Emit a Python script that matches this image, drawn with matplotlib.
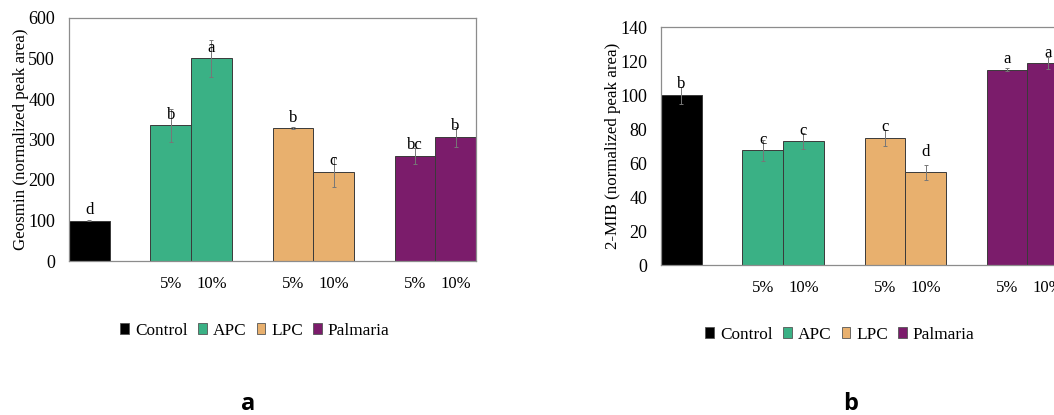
import matplotlib
matplotlib.use("Agg")
import matplotlib.pyplot as plt
import matplotlib.patches as mpatches

plt.rcParams["font.family"] = ["Liberation Serif", "DejaVu Serif"]

groups = ["Control", "APC", "LPC", "Palmaria"]
colors = ["#000000", "#3ab185", "#e8b06e", "#7b1c6b"]
doses = ["5%", "10%", "5%", "10%", "5%", "10%"]

# bar order: Control, APC 5/10, LPC 5/10, Palmaria 5/10
bar_group = [0, 1, 1, 2, 2, 3, 3]
bar_slot = [0, 2, 3, 5, 6, 8, 9]
dose_slot = [2, 3, 5, 6, 8, 9]

geosmin = [100, 335, 500, 328, 220, 260, 307]
geosmin_err = [2, 40, 46, 2, 38, 20, 25]
geosmin_letters = ["d", "b", "a", "b", "c", "bc", "b"]

mib = [100, 67.5, 73, 75, 54.5, 115, 119]
mib_err = [5, 6, 4.5, 4.7, 4.5, 0.8, 3.5]
mib_letters = ["b", "c", "c", "c", "d", "a", "a"]


def draw_panel(axis, values, errors, letters, ylabel, ymax, ystep, letter_pads):
	axis.bar(bar_slot, values, width=1.0, color=[colors[g] for g in bar_group],
		edgecolor="#3a3a3a", linewidth=0.7, zorder=2)
	axis.errorbar(bar_slot, values, yerr=errors, fmt="none", ecolor="#777777",
		elinewidth=0.7, capsize=1.5, capthick=0.7, zorder=3)
	for x, v, letter, pad in zip(bar_slot, values, letters, letter_pads):
		axis.annotate(letter, (x, v), xytext=(0, pad), textcoords="offset points",
			ha="center", va="center", fontsize=12, zorder=4)
	axis.set_xlim(-0.5, 9.5)
	axis.set_ylim(0, ymax)
	axis.set_yticks(range(0, ymax + 1, ystep))
	axis.set_xticks(dose_slot)
	axis.set_xticklabels(doses)
	axis.tick_params(axis="both", length=0)
	axis.tick_params(axis="y", pad=10, labelsize=13)
	axis.tick_params(axis="x", pad=11, labelsize=12)
	axis.set_ylabel(ylabel, fontsize=12.2, labelpad=-0.5)
	for spine in axis.spines.values():
		spine.set_color("#8c8c8c")
		spine.set_linewidth(0.9)


figure = plt.figure(figsize=(10.54, 4.15), dpi=100)
W, H = 1054, 415

ax_a = figure.add_axes([69 / W, (H - 261) / H, 407 / W, 243 / H])
draw_panel(ax_a, geosmin, geosmin_err, geosmin_letters,
	"Geosmin (normalized peak area)", 600, 100, [7.5] * 7)

ax_b = figure.add_axes([661 / W, (H - 265) / H, 407 / W, 237.7 / H])
draw_panel(ax_b, mib, mib_err, mib_letters,
	"2-MIB (normalized peak area)", 140, 20, [8, 7.5, 7.5, 7.5, 15, 7.5, 7.5])

handles = [mpatches.Patch(facecolor=c, edgecolor="#555555", linewidth=0.6, label=g)
	for c, g in zip(colors, groups)]
legend_style = dict(ncol=4, frameon=False, fontsize=12.4, handlelength=0.5, handleheight=0.6,
	handletextpad=0.35, columnspacing=0.6, borderaxespad=0)
figure.legend(handles=handles, loc="center", bbox_to_anchor=(255 / W, (H - 331) / H), **legend_style)
figure.legend(handles=handles, loc="center", bbox_to_anchor=(840 / W, (H - 335) / H), **legend_style)

figure.text(248 / W, (H - 404) / H, "a", ha="center", va="center", fontsize=17,
	family="Open Sans", fontweight="bold")
figure.text(851 / W, (H - 404) / H, "b", ha="center", va="center", fontsize=17,
	family="Open Sans", fontweight="bold")

figure.savefig("out.png", dpi=100)
